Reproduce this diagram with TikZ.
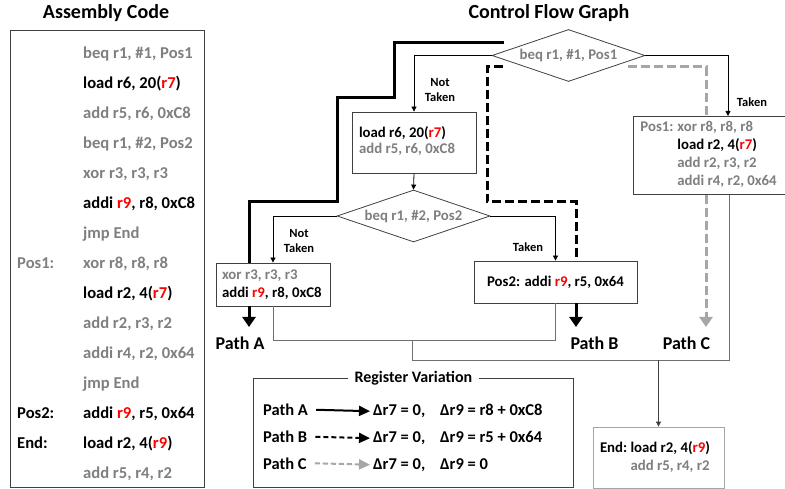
\documentclass[tikz,border=0pt]{standalone}
\usepackage{fontspec}
\setmainfont{Carlito}
\usetikzlibrary{shapes.geometric,arrows.meta}

\definecolor{txtgray}{HTML}{7F7F7F}
\definecolor{hl}{HTML}{FF0000}
\definecolor{pathc}{HTML}{A6A6A6}
\definecolor{boxline}{HTML}{404040}
\definecolor{joinline}{HTML}{707070}

\newcommand{\rg}[1]{\textcolor{hl}{#1}}
\newcommand{\gr}[1]{\textcolor{txtgray}{#1}}
% left-aligned block of lines of a given width, centred in its box
\newcommand{\codelines}[2]{\makebox[#1][l]{\begin{tabular}{@{}l@{}}#2\end{tabular}}}

\begin{document}
\begin{tikzpicture}[x=1pt,y=-1pt,
  title/.style={font=\fontsize{20}{24}\selectfont\bfseries},
  asm/.style={anchor=base west,inner sep=0pt,font=\fontsize{16.6}{20}\selectfont\bfseries},
  blk/.style={draw=boxline,line width=0.8pt,fill=white,inner sep=0pt,
    font=\fontsize{14.8}{18}\selectfont\bfseries},
  cond/.style={diamond,draw=boxline,line width=0.8pt,fill=white,minimum width=153pt,
    minimum height=52pt,inner sep=0pt},
  condtxt/.style={inner sep=0pt,text=txtgray,font=\fontsize{14.8}{18}\selectfont\bfseries},
  branch/.style={align=center,inner sep=0pt,font=\fontsize{12.5}{15}\selectfont\bfseries},
  flow/.style={line width=0.8pt,-{Triangle[width=5pt,length=5pt]}},
  joinln/.style={line width=1pt,draw=joinline},
  pathA/.style={line width=3pt},
  pathB/.style={line width=3pt,dash pattern=on 9pt off 4pt},
  pathC/.style={pathB,draw=pathc},
  pathtip/.style={-{Triangle[width=13pt,length=10pt]}},
  pathlbl/.style={font=\fontsize{18}{22}\selectfont\bfseries},
  legtxt/.style={anchor=base west,inner sep=0pt,font=\fontsize{16.5}{20}\selectfont\bfseries},
  legtip/.style={-{Triangle[width=10pt,length=11pt]},line width=2pt}
]
\useasboundingbox (0,0) rectangle (785,489);

% ---------------- assembly listing ----------------
\node[title] (asmtitle) at (106,13) {Assembly Code};
\node[draw=boxline,line width=0.8pt,minimum width=194pt,minimum height=457pt,
      anchor=north west,inner sep=0pt] (asmpanel) at (10,30) {};

\node[asm,text=txtgray] (i0)  at (83,58.3)  {beq r1, \#1, Pos1};
\node[asm]              (i1)  at (83,88.3)  {load r6, 20(\rg{r7})};
\node[asm,text=txtgray] (i2)  at (83,118.3) {add r5, r6, 0xC8};
\node[asm,text=txtgray] (i3)  at (83,148.3) {beq r1, \#2, Pos2};
\node[asm,text=txtgray] (i4)  at (83,178.3) {xor r3, r3, r3};
\node[asm]              (i5)  at (83,208.3) {addi \rg{r9}, r8, 0xC8};
\node[asm,text=txtgray] (i6)  at (83,238.3) {jmp End};
\node[asm,text=txtgray] (i7)  at (83,268.3) {xor r8, r8, r8};
\node[asm]              (i8)  at (83,298.3) {load r2, 4(\rg{r7})};
\node[asm,text=txtgray] (i9)  at (83,328.3) {add r2, r3, r2};
\node[asm,text=txtgray] (i10) at (83,358.3) {addi r4, r2, 0x64};
\node[asm,text=txtgray] (i11) at (83,388.3) {jmp End};
\node[asm]              (i12) at (83,418.3) {addi \rg{r9}, r5, 0x64};
\node[asm]              (i13) at (83,448.3) {load r2, 4(\rg{r9})};
\node[asm,text=txtgray] (i14) at (83,478.3) {add r5, r4, r2};

\node[asm,text=txtgray] (lpos1) at (17,268.3) {Pos1:};
\node[asm]              (lpos2) at (17,418.3) {Pos2:};
\node[asm]              (lend)  at (17,448.3) {End:};

% ---------------- control flow graph ----------------
\node[title] (cfgtitle) at (549,13) {Control Flow Graph};

\node[cond] (d1) at (568.5,55.5) {};
\node[condtxt] (d1t) at (d1) {beq r1, \#1, Pos1};
\node[blk,font=\fontsize{14.8}{16}\selectfont\bfseries,minimum width=124pt,
      minimum height=61pt] (b1) at (414,142.5)
  {\codelines{110pt}{load r6, 20(\rg{r7})\\ \gr{add r5, r6, 0xC8}}};
\node[cond] (d2) at (413.5,216) {};
\node[condtxt] (d2t) at (d2) {beq r1, \#2, Pos2};
\node[blk,minimum width=114pt,minimum height=43pt] (bA) at (273,284.5)
  {\codelines{102pt}{\gr{xor r3, r3, r3}\\ addi \rg{r9}, r8, 0xC8}};
\node[blk,minimum width=163pt,minimum height=42pt] (bB) at (555.5,282)
  {Pos2: addi \rg{r9}, r5, 0x64};
\node[blk,minimum width=160pt,minimum height=78pt,anchor=north west] (bC) at (633,116)
  {\codelines{146pt}{\gr{\makebox[37pt][l]{Pos1:}xor r8, r8, r8}\\
    \hspace*{37pt}load r2, 4(\rg{r7})\\
    \hspace*{37pt}\gr{add r2, r3, r2}\\
    \hspace*{37pt}\gr{addi r4, r2, 0x64}}};
\node[blk,draw=pathc,minimum width=131pt,minimum height=61pt] (bEnd) at (658.5,457.5)
  {\codelines{117pt}{\makebox[30.5pt][l]{End:}load r2, 4(\rg{r9})\\
    \hspace*{30.5pt}\gr{add r5, r4, r2}}};

% branch edges
\draw[flow] (d1.west) -| (b1.north);
\node[branch] (nt1) at (440,89.5) {Not\\Taken};
\draw[flow] (b1.south) -- (d2.north);
\draw[flow] (d2.west) -| (bA.north);
\node[branch] (nt2) at (299,241) {Not\\Taken};
\draw[flow] (d2.east) -| (bB.north);
\node[branch] (t2) at (528,247) {Taken};
\draw[flow] (d1.east) -| ([xshift=95pt]bC.north west);
\node[branch] (t1) at (752,102) {Taken};

% merge into End
\coordinate (jAB) at (412,340);
\coordinate (jall) at (412,360);
\draw[joinln] (bA.south) |- (bB.south |- jAB) -- (bB.south);
\draw[joinln] (jAB) -- (jall) -| ([xshift=96pt]bC.south west);
\draw[flow,draw=boxline] (bEnd.north |- jall) -- (bEnd.north);

% execution paths
\draw[pathA] (504,43) -- (394,43) -- (394,98) -- (337,98) -- (337,202) -- (249,202)
  -- (249,0 |- bA.north);
\draw[pathA,pathtip] (249,0 |- bA.south) -- (249,327);
\node[pathlbl] (pA) at (240,343) {Path A};

\draw[pathB] (503,67) -- (487,67) -- (487,202) -- (576,202) -- (576,0 |- bB.north);
\draw[pathA,pathtip] (576,0 |- bB.south) -- (576,327);
\node[pathlbl] (pB) at (594.5,343) {Path B};

\draw[pathC] (628,67) -- (706,67) -- (706,0 |- bC.north);
\draw[pathC,pathtip,fill=pathc] (706,0 |- bC.south) -- (706,327);
\node[pathlbl] (pC) at (686.5,343) {Path C};

% ---------------- legend ----------------
\node[draw=boxline,line width=0.8pt,minimum width=320pt,minimum height=109pt,
      anchor=north west,inner sep=0pt] (legend) at (253,378) {};
\node[fill=white,inner xsep=7pt,inner ysep=1pt,font=\fontsize{16}{20}\selectfont\bfseries]
  (legtitle) at (legend.north) {Register Variation};

\node[legtxt] (lgA) at (263,415.5) {Path A};
\node[legtxt] (lgB) at (263,442.5) {Path B};
\node[legtxt] (lgC) at (263,469) {Path C};
\node[legtxt] (rA) at (373,415.5) {Δr7 = 0,};
\node[legtxt] (rB) at (373,442.5) {Δr7 = 0,};
\node[legtxt] (rC) at (373,469) {Δr7 = 0,};
\node[legtxt] (sA) at (440,415.5) {Δr9 = r8 + 0xC8};
\node[legtxt] (sB) at (440,442.5) {Δr9 = r5 + 0x64};
\node[legtxt] (sC) at (440,469) {Δr9 = 0};

\draw[legtip] ([xshift=8pt]lgA.east) -- ([xshift=-3pt]rA.west);
\draw[legtip,dash pattern=on 5pt off 3pt] ([xshift=8pt]lgB.east) -- ([xshift=-3pt]rB.west);
\draw[legtip,dash pattern=on 5pt off 3pt,draw=pathc,fill=pathc] ([xshift=8pt]lgC.east) -- ([xshift=-3pt]rC.west);
\end{tikzpicture}
\end{document}
